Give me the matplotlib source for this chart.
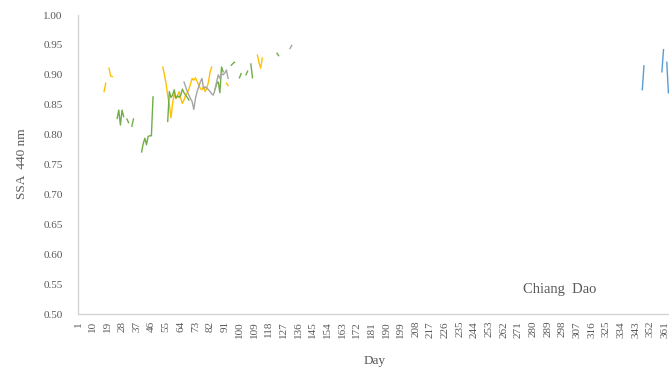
import numpy as np
import pandas as pd
import matplotlib
matplotlib.use('Agg')
import matplotlib.pyplot as plt

# daily SSA at 440 nm, Chiang Dao (missing days are gaps)
all_days = np.arange(1, 367)

yellow_days = [17, 18,
               20, 21, 22,
               53, 54, 55, 56, 57, 58, 59, 60, 61, 62, 63, 64, 65, 66, 67, 68,
               69, 70, 71, 72, 73, 74, 75, 76, 77, 78, 79, 80, 81, 82, 83,
               92, 93,
               111, 112, 113, 114]
yellow_ssa = [0.872, 0.886,
              0.911, 0.898, 0.897,
              0.913, 0.900, 0.885, 0.865, 0.850, 0.828, 0.852, 0.869, 0.860, 0.865,
              0.872, 0.861, 0.852, 0.858, 0.866, 0.870, 0.876, 0.885, 0.894, 0.891,
              0.895, 0.889, 0.883, 0.877, 0.875, 0.880, 0.872, 0.878, 0.888, 0.905,
              0.913,
              0.886, 0.882,
              0.933, 0.920, 0.911, 0.928]

green_days = [25, 26, 27, 28, 29,
              31, 32,
              34, 35,
              40, 41, 42, 43, 44, 45, 46, 47,
              56, 57, 58, 59, 60, 61, 62, 63, 64, 65, 66, 67, 68, 69,
              85, 86, 87, 88, 89, 90,
              95, 96, 97,
              100, 101,
              104, 105,
              107, 108,
              123, 124]
green_ssa = [0.827, 0.841, 0.816, 0.841, 0.830,
             0.826, 0.820,
             0.814, 0.826,
             0.771, 0.785, 0.794, 0.783, 0.797, 0.798, 0.798, 0.863,
             0.822, 0.872, 0.862, 0.866, 0.875, 0.861, 0.865, 0.862, 0.866, 0.876,
             0.870, 0.866, 0.862, 0.858,
             0.876, 0.885, 0.888, 0.870, 0.913, 0.905,
             0.916, 0.919, 0.921,
             0.895, 0.902,
             0.900, 0.906,
             0.918, 0.895,
             0.936, 0.932]

grey_days = [66, 67, 68, 69, 70, 71, 72, 73, 74, 75, 76, 77, 78, 79, 80, 81,
             82, 83, 84, 85, 86, 87, 88, 89, 90, 91, 92, 93,
             131, 132]
grey_ssa = [0.888, 0.880, 0.872, 0.866, 0.860, 0.855, 0.842, 0.860, 0.872, 0.880,
            0.888, 0.894, 0.877, 0.880, 0.878, 0.875, 0.872, 0.868, 0.866, 0.875,
            0.888, 0.900, 0.894, 0.902, 0.900, 0.903, 0.908, 0.894,
            0.944, 0.949]

blue_days = [347, 348, 359, 360, 362, 363]
blue_ssa = [0.875, 0.915, 0.905, 0.942, 0.921, 0.870]

series = [
    (yellow_days, yellow_ssa, '#FFC000'),
    (green_days, green_ssa, '#70AD47'),
    (grey_days, grey_ssa, '#A5A5A5'),
    (blue_days, blue_ssa, '#5B9BD5'),
]

y_ticks = np.arange(0.50, 1.001, 0.05)
x_ticks = np.arange(1, 367, 9)

plt.rcParams['font.family'] = ['Liberation Serif', 'DejaVu Serif']

fig = plt.figure(figsize=(6.69, 3.74), dpi=100)
ax = fig.add_axes([78 / 669, 1 - 314 / 374, 595.3 / 669, 299 / 374])

for days, vals, col in series:
    s = pd.Series(vals, index=days).reindex(all_days)
    ax.plot(all_days, s.values, color=col, lw=1.0)

ax.set_xlim(1, 366)
ax.set_ylim(0.5, 1.0)
ax.set_yticks(y_ticks)
ax.set_yticklabels(['%.2f' % v for v in y_ticks])
ax.set_xticks(x_ticks)
ax.set_xticklabels([str(d) for d in x_ticks], rotation=90)
ax.tick_params(axis='y', length=0, pad=11, labelsize=8, labelcolor='#595959')
ax.tick_params(axis='x', length=0, pad=5, labelsize=8, labelcolor='#595959')

for side in ['top', 'right']:
    ax.spines[side].set_visible(False)
for side in ['left', 'bottom']:
    ax.spines[side].set_color('#D0D0D0')
    ax.spines[side].set_linewidth(0.9)

fig.text(375 / 669, 1 - 361 / 374, 'Day', ha='center', va='center',
         fontsize=9.5, color='#595959')
fig.text(22 / 669, 1 - 164 / 374, 'SSA  440 nm', ha='center', va='center',
         rotation=90, fontsize=9.5, color='#595959')
fig.text(560 / 669, 1 - 290 / 374, 'Chiang  Dao', ha='center', va='center',
         fontsize=10.5, color='#595959')

fig.savefig('out.png', dpi=100)
